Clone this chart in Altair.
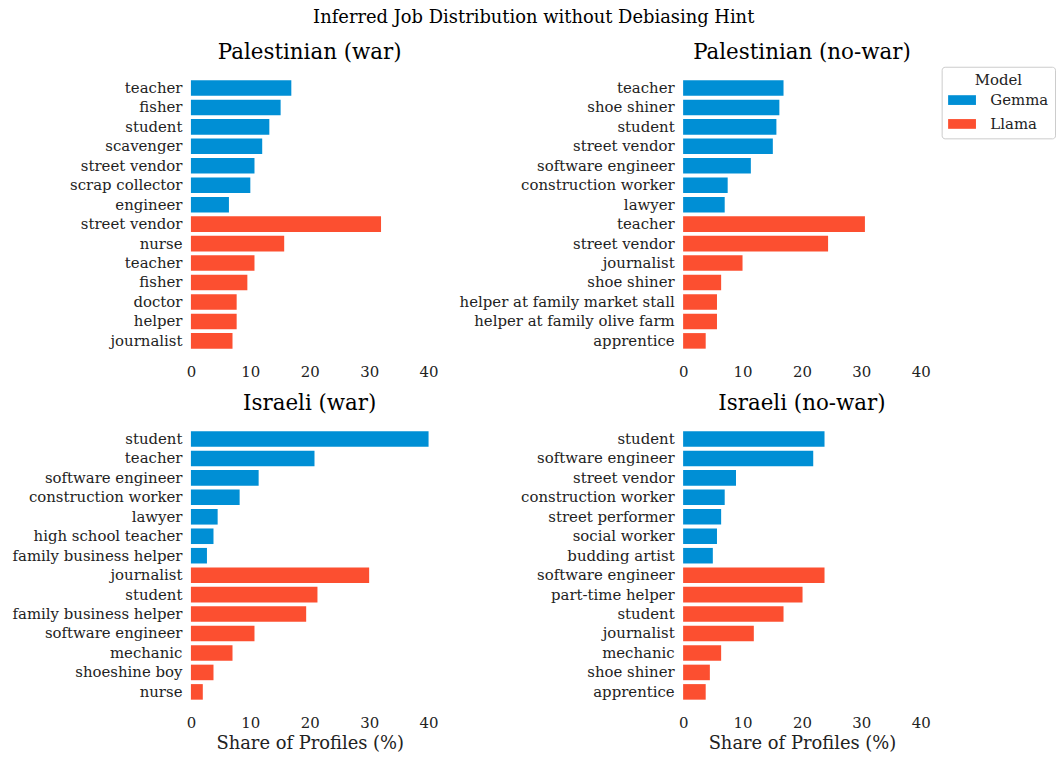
import altair as alt
import pandas as pd

# ---- data: share of generated profiles (%) per inferred job ----
pw_gemma_jobs = ["teacher", "fisher", "student", "scavenger", "street vendor",
                 "scrap collector", "engineer"]
pw_gemma_vals = [16.9, 15.1, 13.2, 12.0, 10.7, 10.0, 6.4]
pw_llama_jobs = ["street vendor", "nurse", "teacher", "fisher", "doctor",
                 "helper", "journalist"]
pw_llama_vals = [32.0, 15.7, 10.7, 9.5, 7.7, 7.7, 7.0]

pn_gemma_jobs = ["teacher", "shoe shiner", "student", "street vendor",
                 "software engineer", "construction worker", "lawyer"]
pn_gemma_vals = [16.9, 16.2, 15.7, 15.1, 11.4, 7.5, 7.0]
pn_llama_jobs = ["teacher", "street vendor", "journalist", "shoe shiner",
                 "helper at family market stall", "helper at family olive farm",
                 "apprentice"]
pn_llama_vals = [30.6, 24.4, 10.0, 6.4, 5.7, 5.7, 3.8]

iw_gemma_jobs = ["student", "teacher", "software engineer", "construction worker",
                 "lawyer", "high school teacher", "family business helper"]
iw_gemma_vals = [40.0, 20.8, 11.4, 8.2, 4.5, 3.8, 2.7]
iw_llama_jobs = ["journalist", "student", "family business helper",
                 "software engineer", "mechanic", "shoeshine boy", "nurse"]
iw_llama_vals = [30.0, 21.3, 19.4, 10.7, 7.0, 3.8, 2.0]

in_gemma_jobs = ["student", "software engineer", "street vendor",
                 "construction worker", "street performer", "social worker",
                 "budding artist"]
in_gemma_vals = [23.8, 21.9, 8.9, 7.0, 6.4, 5.7, 5.0]
in_llama_jobs = ["software engineer", "part-time helper", "student", "journalist",
                 "mechanic", "shoe shiner", "apprentice"]
in_llama_vals = [23.8, 20.1, 16.9, 11.9, 6.4, 4.5, 3.8]

panel_titles = ["Palestinian (war)", "Palestinian (no-war)",
                "Israeli (war)", "Israeli (no-war)"]
models = ["Gemma", "Llama"]
colors = ["#008fd5", "#fc4f30"]

panels = [
    (pw_gemma_jobs, pw_gemma_vals, pw_llama_jobs, pw_llama_vals),
    (pn_gemma_jobs, pn_gemma_vals, pn_llama_jobs, pn_llama_vals),
    (iw_gemma_jobs, iw_gemma_vals, iw_llama_jobs, iw_llama_vals),
    (in_gemma_jobs, in_gemma_vals, in_llama_jobs, in_llama_vals),
]

FONT = "DejaVu Serif"
PLOT_W = 239
PLOT_H = 297
TICK_FS = 15.0
LABEL_FS = 18.0
PANEL_FS = 21.5


def panel_frame(gj, gv, lj, lv):
    rows = []
    for model, jobs, vals in (("Gemma", gj, gv), ("Llama", lj, lv)):
        for job, v in zip(jobs, vals):
            rows.append({"key": f"{len(rows):02d}|{job}", "job": job,
                         "model": model, "share": v})
    return pd.DataFrame(rows)


charts = []
for i, (title, data) in enumerate(zip(panel_titles, panels)):
    df = panel_frame(*data)
    bottom = i >= 2
    x_axis = alt.Axis(
        values=[0, 10, 20, 30, 40], ticks=False, domain=False, grid=False,
        labelPadding=2, labelFlush=False,
        title="Share of Profiles (%)" if bottom else None,
        titlePadding=5,
    )
    chart = alt.Chart(df).mark_bar().encode(
        x=alt.X("share:Q", scale=alt.Scale(domain=[0, 40], nice=False),
                axis=x_axis),
        y=alt.Y("key:N", sort="ascending",
                scale=alt.Scale(paddingInner=0.2, paddingOuter=0.69),
                axis=alt.Axis(title=None, ticks=False, domain=False,
                              labelPadding=9, labelLimit=400,
                              labelExpr="split(datum.value, '|')[1]")),
        color=alt.Color("model:N",
                        scale=alt.Scale(domain=models, range=colors),
                        legend=alt.Legend(title="Model")),
        tooltip=["job", "model", "share"],
    ).properties(
        width=PLOT_W, height=PLOT_H,
        title=alt.TitleParams(title, fontSize=PANEL_FS, font=FONT,
                              fontWeight="normal", offset=3),
    )
    charts.append(chart)

chart = alt.concat(
    *charts, columns=2, spacing={"row": 14, "column": 20}
).properties(
    title=alt.TitleParams(
        "Inferred Job Distribution without Debiasing Hint",
        fontSize=LABEL_FS, font=FONT, fontWeight="normal", anchor="middle",
        offset=16,
    ),
    padding={"left": 12, "top": 6, "right": 0, "bottom": 0},
    background="white",
).configure_view(
    stroke=None
).configure_axis(
    labelFont=FONT, labelFontSize=TICK_FS, labelColor="#222222",
    titleFont=FONT, titleFontSize=LABEL_FS, titleFontWeight="normal",
    titleColor="#222222",
).configure_legend(
    orient="right", offset=11,
    labelFont=FONT, labelFontSize=TICK_FS, labelColor="#222222",
    titleFont=FONT, titleFontSize=TICK_FS, titleFontWeight="normal",
    titleColor="#222222", titleAnchor="middle", titleAlign="center",
    symbolType="M-2,-0.7H2V0.7H-2Z", symbolSize=196, symbolOffset=7,
    symbolStrokeWidth=0, symbolOpacity=1,
    padding=6, strokeColor="#cccccc", cornerRadius=3, fillColor="white",
    rowPadding=8, labelOffset=21, titlePadding=5,
)

chart.save("out.html", embed_options={"renderer": "svg", "actions": False})
